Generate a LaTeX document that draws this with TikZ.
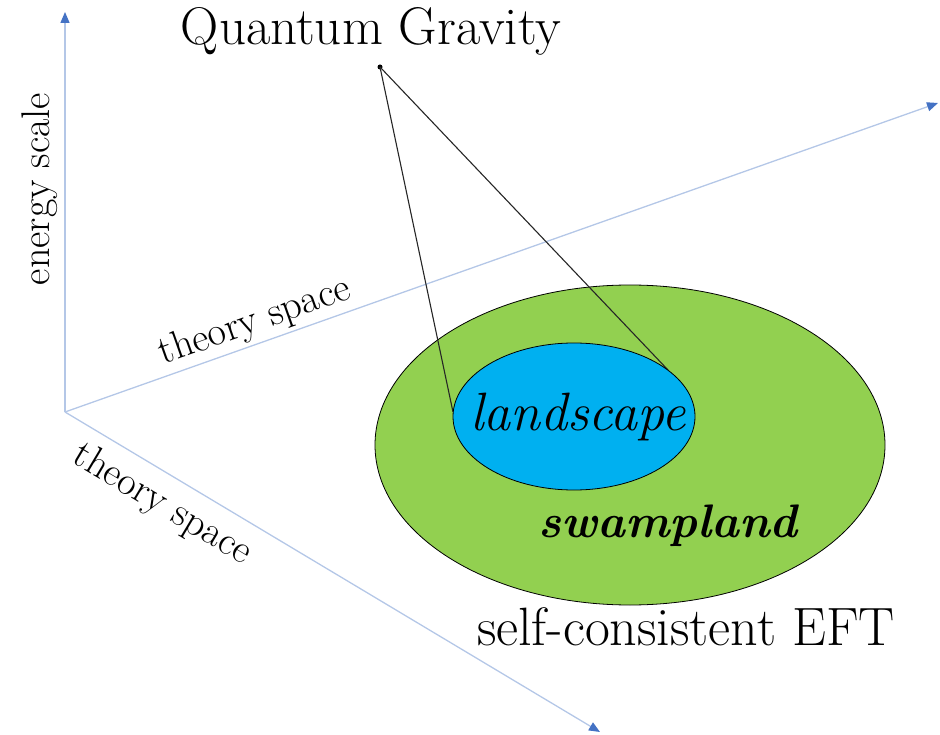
\documentclass[tikz,border=0pt]{standalone}
\usetikzlibrary{arrows.meta,shapes.geometric}
\definecolor{axisline}{RGB}{180,199,231}
\definecolor{axistip}{RGB}{68,114,196}
\definecolor{swampgreen}{RGB}{146,208,80}
\definecolor{landblue}{RGB}{0,176,240}
\begin{document}
\begin{tikzpicture}[x=1pt, y=-1pt,
    axis/.style={axisline, line width=1.3pt, -{Triangle[length=11pt, width=9pt, color=axistip]}},
    axislabel/.style={font=\fontsize{40}{46}\selectfont, inner sep=0pt},
    bigtext/.style={font=\fontsize{54}{62}\selectfont, inner sep=0pt, anchor=base},
    region/.style={ellipse, draw, line width=0.8pt, inner sep=0pt}]
        \useasboundingbox (0,0) rectangle (940,735);
        \coordinate (o) at (65,412);
        \coordinate (up) at (65,12);
        \coordinate (right) at (938,103);
        \coordinate (down) at (600,732);
        \draw[axis] (o) -- (up);
        \draw[axis] (o) -- (right);
        \draw[axis] (o) -- (down);
        \node at (40,189) (energy) [axislabel, rotate=90] {energy scale};
        \node at (255,322) (theory1) [axislabel, rotate=19.5] {theory space};
        \node at (162,505) (theory2) [axislabel, rotate=-30.9] {theory space};
        \node at (371,45) (qg) [bigtext, font=\fontsize{53}{60}\selectfont] {Quantum Gravity};
        \node at (380,67) (qgpt) [circle, fill, inner sep=0pt, minimum size=5pt] {};
        \node at (630,445) (eft) [region, fill=swampgreen, minimum width=510pt, minimum height=320pt] {};
        \coordinate (tl) at (453,412);
        \coordinate (tr) at (668,370);
        \draw[line width=1.1pt, black!85] (qgpt.center) -- (tl);
        \draw[line width=1.1pt, black!85] (qgpt.center) -- (tr);
        \node at (574,416.5) (land) [region, fill=landblue, minimum width=242pt, minimum height=147pt] {};
        \node at (578,430) (landtext) [bigtext, font=\fontsize{54}{62}\selectfont\itshape] {landscape};
        \node at (668,537) (swamp) [bigtext, font=\fontsize{47}{54}\selectfont\bfseries\itshape] {swampland};
        \node at (686,645) (selfc) [bigtext] {self-consistent EFT};
      \end{tikzpicture}
\end{document}
